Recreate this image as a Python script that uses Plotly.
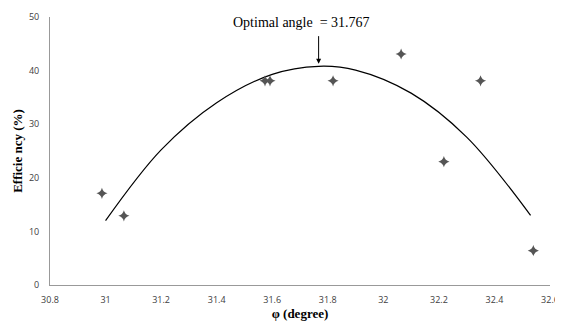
import plotly.graph_objects as go

# measured data points
phi_pts = [30.987, 31.066, 31.574, 31.592, 31.819, 32.064, 32.218, 32.350, 32.540]
eff_pts = [17.1, 12.9, 38.1, 38.1, 38.1, 43.1, 23.0, 38.1, 6.4]

# trendline values
phi_fit = [31.0, 31.2, 31.4, 31.6, 31.767, 31.9, 32.1, 32.3, 32.53]
eff_fit = [12.0, 25.2, 34.0, 39.3, 40.8, 40.1, 35.8, 27.6, 13.0]

x_ticks = [30.8, 31, 31.2, 31.4, 31.6, 31.8, 32, 32.2, 32.4, 32.6]
y_ticks = [0, 10, 20, 30, 40, 50]

fig = go.Figure()
fig.add_trace(go.Scatter(x=phi_fit, y=eff_fit, mode="lines",
                         line=dict(color="black", width=1.2, shape="spline", smoothing=1.0),
                         showlegend=False, hoverinfo="skip"))
fig.add_trace(go.Scatter(x=phi_pts, y=eff_pts, mode="markers",
                         marker=dict(symbol="star-diamond", size=8, color="#555555"),
                         showlegend=False))

fig.add_annotation(x=31.767, y=41.3, xref="x", yref="y", text="", showarrow=True,
                   ax=0, ay=-29, arrowhead=2, arrowsize=1, arrowwidth=1, arrowcolor="black")
fig.add_annotation(x=31.707, y=48.9, xref="x", yref="y", text="Optimal angle  = 31.767",
                   showarrow=False, font=dict(family="Liberation Serif", size=14, color="black"))

# page body adds an 8px offset, so the figure is 8px smaller and margins compensate
fig.update_layout(
    width=555, height=316,
    margin=dict(l=42, r=13, t=9, b=39, autoexpand=False),
    paper_bgcolor="white", plot_bgcolor="white",
    xaxis=dict(range=[30.8, 32.6], tickvals=x_ticks, ticktext=[str(v) for v in x_ticks],
               automargin=False, ticklabelstandoff=6, ticklabeloverflow="allow",
               showgrid=False, zeroline=False, showline=True, linecolor="#999999", linewidth=1,
               ticks="", tickfont=dict(family="Open Sans", size=9, color="#404040"),
               title=dict(text="<b>φ (degree)</b>", standoff=2,
                          font=dict(family="Liberation Serif", size=13, color="black"))),
    yaxis=dict(range=[0, 50], tickvals=y_ticks, showgrid=False, zeroline=False,
               automargin=False, ticklabelstandoff=8,
               showline=True, linecolor="#999999", linewidth=1, ticks="",
               tickfont=dict(family="Open Sans", size=9, color="#404040"),
               title=dict(text="<b>Efficie ncy (%)</b>", standoff=3,
                          font=dict(family="Liberation Serif", size=13, color="black"))),
)

fig.write_html("out.html")
